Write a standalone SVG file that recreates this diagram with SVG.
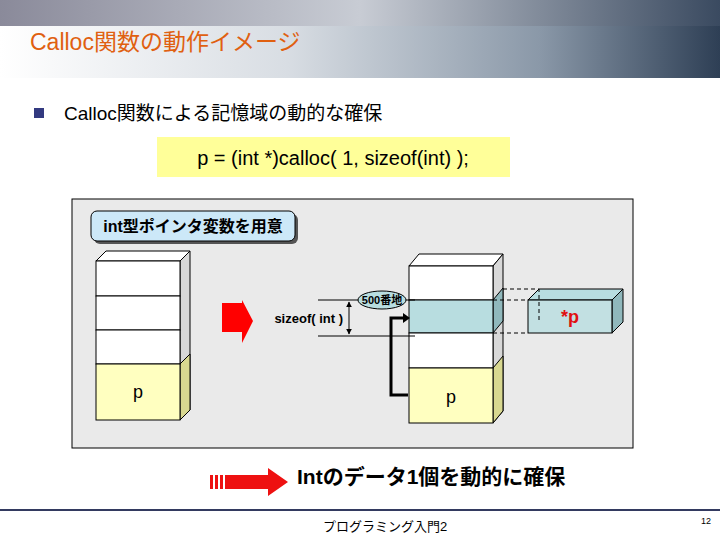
<svg xmlns="http://www.w3.org/2000/svg" width="720" height="540" viewBox="0 0 720 540">
<defs>
<linearGradient id="hdr" x1="0" y1="0" x2="1" y2="0">
<stop offset="0" stop-color="#ffffff"/><stop offset="0.4" stop-color="#d8dde3"/><stop offset="0.75" stop-color="#8a98a8"/><stop offset="1" stop-color="#2e3f55"/>
</linearGradient>
<linearGradient id="top" x1="0" y1="0" x2="1" y2="0">
<stop offset="0" stop-color="#8a8a9a"/><stop offset="0.5" stop-color="#c8ccd4"/><stop offset="1" stop-color="#3a4a60"/>
</linearGradient>
<marker id="ah" viewBox="0 0 10 10" refX="9" refY="5" markerWidth="6" markerHeight="6" orient="auto-start-reverse"><path d="M0,0L10,5L0,10z" fill="#000"/></marker>
<style>
.t{font-family:"Liberation Sans","Noto Sans CJK JP",sans-serif}
.cell{fill:#fff;stroke:#000;stroke-width:1}
.yel{fill:#ffffc0;stroke:#000;stroke-width:1}
.side{fill:#d8d8d8;stroke:#000;stroke-width:1}
.yside{fill:#d8d890;stroke:#000;stroke-width:1}
.cy{fill:#b8dde0;stroke:#000;stroke-width:1}
.cys{fill:#90b8bc;stroke:#000;stroke-width:1}
.dash{stroke:#000;stroke-dasharray:4,3;fill:none}
</style>
</defs>
<rect width="720" height="540" fill="#fff"/>
<rect x="0" y="0" width="720" height="78" fill="url(#hdr)"/>
<rect x="0" y="0" width="720" height="26" fill="url(#top)"/>
<text class="t" x="30" y="50" font-size="23" fill="#e06010">Calloc関数の動作イメージ</text>
<rect x="34" y="108" width="10" height="10" fill="#333a80"/>
<text class="t" x="64" y="120" font-size="19">Calloc関数による記憶域の動的な確保</text>
<rect x="157" y="137" width="353" height="40" fill="#ffff99"/>
<text class="t" x="333" y="165" font-size="20" text-anchor="middle">p = (int *)calloc( 1, sizeof(int) );</text>

<rect x="72" y="199" width="561" height="249" fill="#eaeaea" stroke="#000"/>

<g id="label">
<rect x="94" y="214" width="204" height="30" rx="6" fill="#555"/>
<rect x="91" y="211" width="204" height="30" rx="6" fill="#cce8f8" stroke="#000"/>
<text class="t" x="193" y="232" font-size="16" font-weight="bold" text-anchor="middle">int型ポインタ変数を用意</text>
</g>

<g id="stack-left">
<path class="cell" d="M96,261L106,251L190,251L180,261z"/>
<path class="side" d="M180,261L190,251L190,410L180,420z"/>
<path class="yside" d="M180,364L190,354L190,410L180,420z"/>
<rect class="cell" x="96" y="261" width="84" height="35"/>
<rect class="cell" x="96" y="296" width="84" height="34"/>
<rect class="cell" x="96" y="330" width="84" height="34"/>
<rect class="yel" x="96" y="364" width="84" height="56"/>
<text class="t" x="138" y="398" font-size="18" text-anchor="middle">p</text>
</g>

<polygon id="red-arrow" points="222,303 242,303 242,300 253,321 242,343 242,332 222,332" fill="#ff0000"/>

<g id="stack-right">
<path class="cell" d="M409,266L419,254L503,254L493,266z"/>
<path class="side" d="M493,266L503,254L503,411L493,423z"/>
<path class="cys" d="M493,300L503,288L503,321L493,333z"/>
<path class="yside" d="M493,368L503,356L503,411L493,423z"/>
<rect class="cell" x="409" y="266" width="84" height="34"/>
<rect class="cy" x="409" y="300" width="84" height="33"/>
<rect class="cell" x="409" y="333" width="84" height="35"/>
<rect class="yel" x="409" y="368" width="84" height="55"/>
<text class="t" x="451" y="403" font-size="18" text-anchor="middle">p</text>
</g>

<g id="star-p">
<path class="cy" d="M528,300L539,289L623,289L612,300z"/>
<path class="cys" d="M612,300L623,289L623,322L612,333z"/>
<rect x="528" y="300" width="84" height="33" fill="#b8dde0" fill-opacity="0.8" stroke="#000"/>
<text class="t" x="570" y="323" font-size="18" font-weight="bold" fill="#e01010" text-anchor="middle">*p</text>
</g>

<g id="connectors">
<path class="dash" d="M503,289L539,289L539,322M493,333L528,333M493,300L528,300"/>
<line x1="318" y1="300" x2="415" y2="300" stroke="#000"/>
<line x1="318" y1="336" x2="415" y2="336" stroke="#000"/>
<line x1="349" y1="302" x2="349" y2="334" stroke="#000" marker-start="url(#ah)" marker-end="url(#ah)"/>
<path d="M408,395L391,395L391,318L406,318" fill="none" stroke="#000" stroke-width="3"/>
<path d="M403,313L410,318L403,323z" fill="#000"/>
</g>
<text class="t" x="343" y="323" font-size="13" font-weight="bold" text-anchor="end">sizeof( int )</text>
<g id="addr">
<ellipse cx="382" cy="300" rx="24" ry="9" fill="#b8dde0" stroke="#000"/>
<text class="t" x="382" y="304" font-size="11" font-weight="bold" text-anchor="middle">500番地</text>
</g>

<g id="bottom-arrow" fill="#ee1111">
<rect x="210" y="475" width="3" height="14"/><rect x="215" y="475" width="3" height="14"/><rect x="220" y="475" width="3" height="14"/>
<polygon points="225,475 268,475 268,468 288,482 268,496 268,489 225,489"/>
</g>
<text class="t" x="297" y="484" font-size="21" font-weight="bold">Intのデータ1個を動的に確保</text>
<line x1="0" y1="510" x2="720" y2="510" stroke="#333a60" stroke-width="2"/>
<text class="t" x="323" y="531" font-size="13">プログラミング入門2</text>
<text class="t" x="706" y="524" font-size="9" text-anchor="middle">12</text>
</svg>
